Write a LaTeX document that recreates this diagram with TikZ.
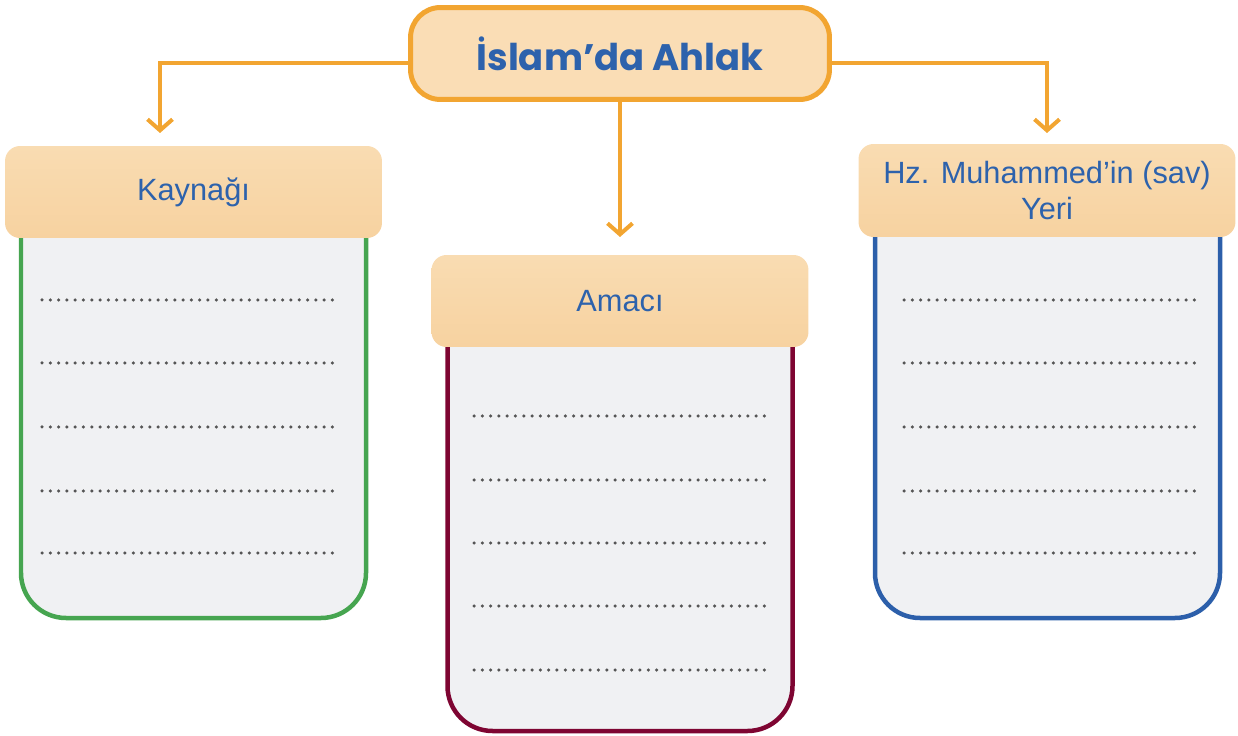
\documentclass[tikz,border=0pt]{standalone}
\usepackage{fontspec}
\setmainfont{Liberation Sans}
\newfontfamily\titlefont{Poppins}
\usetikzlibrary{arrows.meta}
\definecolor{linkorange}{HTML}{F2A531}
\definecolor{titlefill}{HTML}{FADDB5}
\definecolor{headfill}{HTML}{F9DCB2}
\definecolor{headedge}{HTML}{F7D2A0}
\definecolor{textblue}{HTML}{2D62AC}
\definecolor{bodygray}{HTML}{F0F1F3}
\definecolor{dotgray}{HTML}{555555}
\definecolor{kgreen}{HTML}{46A550}
\definecolor{kred}{HTML}{7E0532}
\definecolor{kblue}{HTML}{2C5FAA}
\tikzset{
  conn/.style={draw=linkorange, line width=0.08cm,
    -{Straight Barb[length=0.22cm,width=0.5cm,line width=0.08cm]}},
  headbox/.style={top color=headfill, middle color=headfill, bottom color=headedge,
    rounded corners=0.3cm, minimum width=7.54cm,
    minimum height=1.84cm, text=textblue, font=\fontsize{17.5}{20}\selectfont,
    align=center, inner sep=0pt},
  body/.style={fill=bodygray, line width=0.09cm, rounded corners=0.9cm},
  dots/.style={draw=dotgray, line width=0.07cm, line cap=round,
    dash pattern=on 0pt off 0.166cm}
}
\begin{document}
\begin{tikzpicture}[x=0.02cm,y=-0.02cm]
  \useasboundingbox (0,0) rectangle (1238,736);
  % title
  \node[draw=linkorange, line width=0.1cm, fill=titlefill, rounded corners=0.6cm,
    minimum width=8.38cm, minimum height=1.84cm, text=textblue,
    font=\titlefont\bfseries\fontsize{21}{24}\selectfont] (title) at (620,53.5)
    {İslam’da Ahlak};
  % left column
  \draw[body, draw=kgreen] (21,150) rectangle (366,618);
  \foreach \y in {300,363,427,491,553}
    \draw[dots] (42,\y) -- (335,\y);
  \node[headbox] (kaynak) at (193.5,192) {Kaynağı};
  % middle column
  \draw[body, draw=kred] (447.5,260) rectangle (792.5,731);
  \foreach \y in {416,480,543,606,670}
    \draw[dots] (474,\y) -- (767,\y);
  \node[headbox] (amac) at (620,301) {Amacı};
  % right column
  \draw[body, draw=kblue] (875,150) rectangle (1220,618);
  \foreach \y in {300,363,427,491,553}
    \draw[dots] (904,\y) -- (1197,\y);
  \node[headbox, minimum height=1.86cm] (yer) at (1047,190.5)
    {Hz. Muhammed’in (sav)\\Yeri};
  % connectors
  \coordinate (kend) at (160,133);
  \coordinate (aend) at (620,237);
  \coordinate (yend) at (1047,133);
  \draw[conn] ([yshift=-0.19cm]title.west) -| (kend);
  \draw[conn] (title.south) -- (aend);
  \draw[conn] ([yshift=-0.19cm]title.east) -| (yend);
\end{tikzpicture}
\end{document}
